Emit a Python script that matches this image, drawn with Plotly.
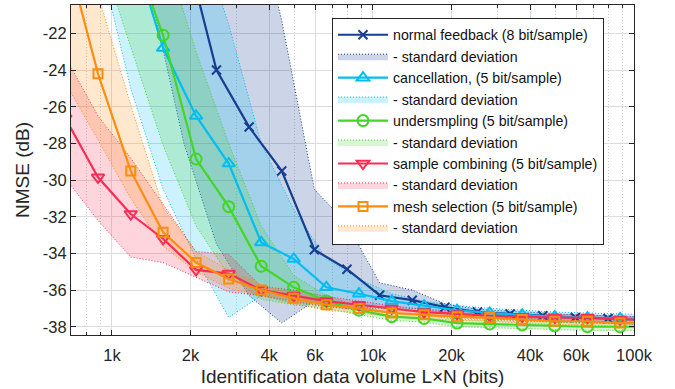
import plotly.graph_objects as go

# ---------------- data ----------------
# x grid of the 5 bit/sample methods (bits)
x_5bit = [663, 884, 1180, 1570, 2100, 2800, 3730, 4970, 6630, 8840, 11800,
          15700, 21000, 28000, 37300, 49700, 66300, 88400, 117800]
# x grid of the 8 bit/sample normal feedback (bits)
x_8bit = [1060, 1414, 1886, 2514, 3352, 4470, 5960, 7950, 10600, 14140, 18860,
          25140, 33520, 44700, 59600, 79500, 106000]

normal_mean = [0, -8, -17, -24, -27.1, -29.5, -33.8, -34.86, -36.28, -36.55, -36.93,
               -37.2, -37.3, -37.4, -37.5, -37.55, -37.6]
normal_upper = [10, 8, 2, -5, -14, -21.3, -30.5, -32.4, -35.6, -36.0, -36.75,
                -37.05, -37.15, -37.25, -37.35, -37.4, -37.45]
normal_lower = [-12, -20.3, -28.0, -33.5, -36.3, -37.8, -36.6, -37.0, -36.9, -37.0, -37.2,
                -37.4, -37.5, -37.6, -37.7, -37.75, -37.8]

cancel_mean = [-5, -10, -17, -22.8, -26.5, -29.1, -33.4, -34.3, -35.85, -36.2, -36.6,
               -36.85, -37.1, -37.25, -37.35, -37.45, -37.5, -37.55, -37.6]
cancel_upper = [0, -5, -8, -12, -16, -21.5, -28.0, -31.6, -34.3, -35.4, -36.2,
                -36.6, -36.85, -37.0, -37.1, -37.2, -37.25, -37.3, -37.35]
cancel_lower = [-12, -17.5, -25, -30.5, -34.3, -37.5, -36.3, -36.7, -36.9, -37.0, -37.0,
                -37.15, -37.4, -37.55, -37.65, -37.75, -37.8, -37.85, -37.9]

under_mean = [-5, -10, -17.3, -22.1, -28.85, -31.45, -34.7, -35.85, -36.6, -37.1, -37.45,
              -37.55, -37.8, -37.85, -37.9, -37.95, -38.0, -38.0, -38.0]
under_upper = [0, -5, -10, -17.2, -23.0, -28.0, -32.5, -35.2, -36.3, -36.9, -37.25,
               -37.35, -37.6, -37.65, -37.7, -37.75, -37.8, -37.8, -37.8]
under_lower = [-8, -17.3, -22.8, -28.1, -32.5, -35.2, -36.5, -36.8, -37.0, -37.35, -37.65,
               -37.75, -38.0, -38.05, -38.1, -38.15, -38.2, -38.2, -38.2]

comb_mean = [-26.64, -29.85, -31.85, -33.2, -34.9, -35.1, -36.0, -36.3, -36.6, -36.8, -37.0,
             -37.2, -37.3, -37.4, -37.45, -37.5, -37.5, -37.6, -37.65]
comb_upper = [-23.3, -26.5, -28.8, -31.3, -33.9, -34.05, -35.8, -36.0, -36.35, -36.6, -36.85,
              -37.05, -37.15, -37.25, -37.3, -37.35, -37.35, -37.45, -37.5]
comb_lower = [-29.9, -32.2, -34.2, -34.5, -35.3, -36.1, -36.3, -36.6, -36.9, -37.1, -37.2,
              -37.4, -37.5, -37.6, -37.65, -37.7, -37.7, -37.8, -37.85]

mesh_mean = [-17.4, -24.2, -29.5, -32.85, -34.5, -35.4, -36.0, -36.45, -36.8, -37.0, -37.25,
             -37.35, -37.45, -37.5, -37.6, -37.7, -37.7, -37.8, -37.8]
mesh_upper = [-13, -19.9, -25.9, -31.5, -33.9, -34.9, -35.7, -36.2, -36.55, -36.8, -37.05,
              -37.15, -37.25, -37.3, -37.4, -37.5, -37.5, -37.6, -37.6]
mesh_lower = [-24.7, -27.8, -31.0, -33.6, -35.0, -35.9, -36.3, -36.75, -37.1, -37.25, -37.45,
              -37.55, -37.65, -37.7, -37.8, -37.9, -37.9, -38.0, -38.0]

series_names = ["normal feedback (8 bit/sample)", "cancellation, (5 bit/sample)",
                "undersmpling (5 bit/sample)", "sample combining (5 bit/sample)",
                "mesh selection (5 bit/sample)"]
band_name = "- standard deviation"

x_tickvals = [1000, 2000, 4000, 6000, 10000, 20000, 40000, 60000, 100000]
x_ticktext = ["1k", "2k", "4k", "6k", "10k", "20k", "40k", "60k", "100k"]
x_minorvals = [700, 800, 900, 3000, 5000, 7000, 8000, 9000,
               30000, 50000, 70000, 80000, 90000]
y_tickvals = [-38, -36, -34, -32, -30, -28, -26, -24, -22]
y_ticktext = ["-38", "-36", "-34", "-32", "-30", "-28", "-26", "-24", "-22"]

# ---------------- styles ----------------
series = [
    (x_8bit, normal_mean, normal_upper, normal_lower, "rgb(22,62,145)", "rgba(22,62,145,0.22)", "x-thin", 9),
    (x_5bit, cancel_mean, cancel_upper, cancel_lower, "rgb(0,190,240)", "rgba(0,190,255,0.2)", "triangle-up-open", 11),
    (x_5bit, under_mean, under_upper, under_lower, "rgb(65,215,35)", "rgba(60,210,40,0.2)", "circle-open", 11),
    (x_5bit, comb_mean, comb_upper, comb_lower, "rgb(250,45,85)", "rgba(255,45,85,0.2)", "triangle-down-open", 11),
    (x_5bit, mesh_mean, mesh_upper, mesh_lower, "rgb(255,140,10)", "rgba(255,140,10,0.2)", "square-open", 9),
]

fig = go.Figure()

# bands first (drawn below lines)
for i, (xs, m, up, lo, col, fcol, sym, sz) in enumerate(series):
    fig.add_trace(go.Scatter(
        x=list(xs) + list(xs)[::-1],
        y=list(up) + list(lo)[::-1],
        fill="toself", fillcolor=fcol,
        line=dict(color=col, width=1, dash="1px,2px"),
        mode="lines", name=band_name, hoverinfo="skip",
        legendrank=2 * i + 2, legendgroup="b%d" % i,
    ))

for i, (xs, m, up, lo, col, fcol, sym, sz) in enumerate(series):
    mk = dict(symbol=sym, size=sz, color=col, line=dict(color=col, width=2))
    fig.add_trace(go.Scatter(
        x=xs, y=m, mode="lines+markers", name=series_names[i],
        line=dict(color=col, width=2.2), marker=mk,
        legendrank=2 * i + 1, legendgroup="l%d" % i,
    ))

axis_col = "#262626"
fig.update_layout(
    width=675, height=389,
    margin=dict(l=71, r=41, t=5, b=54),
    paper_bgcolor="white", plot_bgcolor="white",
    font=dict(family="Liberation Sans, Arial, sans-serif", color=axis_col),
    showlegend=True,
    legend=dict(x=0.4636, y=0.9606, xanchor="left", yanchor="top",
                bgcolor="white", bordercolor="#262626", borderwidth=1,
                font=dict(size=14.2, color="#111111"),
                itemwidth=50, tracegroupgap=0, traceorder="normal"),
)
fig.update_xaxes(
    type="log", range=[2.843, 5.0],
    tickvals=x_tickvals, ticktext=x_ticktext,
    tickfont=dict(size=16.5, color=axis_col),
    ticks="inside", ticklen=5, tickcolor=axis_col, ticklabelstandoff=5,
    showline=True, linecolor=axis_col, linewidth=1, mirror="ticks",
    showgrid=True, gridcolor="#dcdcdc", gridwidth=1,
    minor=dict(tickvals=x_minorvals, ticks="inside", ticklen=3, tickcolor=axis_col,
               showgrid=True, gridcolor="#cfcfcf", griddash="1px,2px", gridwidth=1),
    zeroline=False,
    title=dict(text="Identification data volume L\u00d7N (bits)",
               font=dict(size=19, color=axis_col), standoff=6),
)
fig.update_yaxes(
    range=[-38.45, -20.45],
    tickvals=y_tickvals, ticktext=y_ticktext,
    tickfont=dict(size=16.5, color=axis_col),
    ticks="inside", ticklen=5, tickcolor=axis_col,
    showline=True, linecolor=axis_col, linewidth=1, mirror="ticks",
    showgrid=True, gridcolor="#dcdcdc", gridwidth=1,
    zeroline=False,
    title=dict(text="NMSE (dB)", font=dict(size=19, color=axis_col), standoff=8),
)

fig.write_html("out.html", config={"displayModeBar": False},
               post_script="document.body.style.margin='0';")
